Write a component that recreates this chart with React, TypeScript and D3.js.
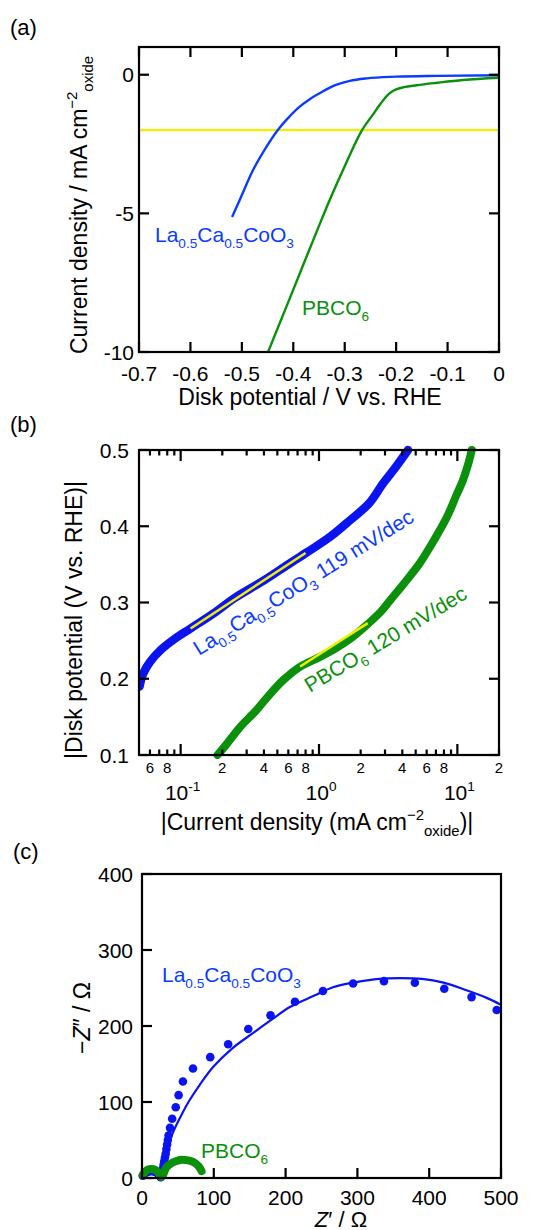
import React from 'react';
import * as d3 from 'd3';

const FONT = '"Liberation Sans", Arial, Helvetica, sans-serif';
const BLUE_A = '#0a3cff';
const BLUE = '#0a14f0';
const GREEN = '#0a900a';
const YELLOW = '#f2ee00';

// ---------- Panel (a): LSV ----------
const aXTicks = [-0.7, -0.6, -0.5, -0.4, -0.3, -0.2, -0.1, 0];
const aYTicks = [0, -5, -10];
const aLaV = [-0.519, -0.504, -0.478, -0.452, -0.43, -0.413, -0.387, -0.368, -0.348, -0.322, -0.29, -0.257, -0.2, -0.12, 0];
const aLaJ = [-5.13, -4.51, -3.43, -2.59, -1.99, -1.62, -1.14, -0.88, -0.66, -0.4, -0.22, -0.13, -0.07, -0.04, -0.02];
const aPbV = [-0.449, -0.4, -0.35, -0.329, -0.3, -0.266, -0.245, -0.23, -0.218, -0.21, -0.2, -0.185, -0.16, -0.12, -0.07, 0];
const aPbJ = [-10, -7.75, -5.45, -4.51, -3.3, -1.99, -1.43, -1.04, -0.76, -0.63, -0.53, -0.45, -0.38, -0.29, -0.19, -0.11];
const aRefJ = -2;

// ---------- Panel (b): Tafel ----------
const bYTicks = [0.1, 0.2, 0.3, 0.4, 0.5];
const bMajor = [0.1, 1, 10];
const bMinor = [0.06, 0.07, 0.08, 0.09, 0.2, 0.3, 0.4, 0.5, 0.6, 0.7, 0.8, 0.9, 2, 3, 4, 5, 6, 7, 8, 9, 20];
const bMinorLabels: [number, string][] = [[0.06, '6'], [0.08, '8'], [0.2, '2'], [0.4, '4'], [0.6, '6'], [0.8, '8'], [2, '2'], [4, '4'], [6, '6'], [8, '8'], [20, '2']];
const bLaJ = [0.0505, 0.052, 0.054, 0.06, 0.072, 0.09, 0.118, 0.18, 0.241, 0.4, 0.6, 0.822, 1.2, 1.68, 2.3, 2.9, 3.6, 4.4];
const bLaE = [0.19, 0.2, 0.208, 0.222, 0.238, 0.252, 0.266, 0.288, 0.305, 0.329, 0.35, 0.366, 0.386, 0.408, 0.43, 0.456, 0.478, 0.5];
const bPbJ = [0.1845, 0.21, 0.27, 0.35, 0.424, 0.55, 0.733, 1.0, 1.27, 1.7, 2.23, 2.8, 3.27, 4.2, 5.37, 6.8, 8.41, 9.8, 10.96, 12.0, 12.7];
const bPbE = [0.1, 0.112, 0.137, 0.158, 0.176, 0.198, 0.216, 0.228, 0.238, 0.253, 0.271, 0.288, 0.303, 0.327, 0.352, 0.382, 0.412, 0.44, 0.46, 0.482, 0.5];
const bLaFitJ = [0.118, 0.8];
const bLaFitE = [0.266, 0.365];
const bPbFitJ = [0.73, 2.25];
const bPbFitE = [0.216, 0.273];

// ---------- Panel (c): Nyquist ----------
const cXTicks = [0, 100, 200, 300, 400, 500];
const cYTicks = [0, 100, 200, 300, 400];
const cLaZr = [1, 4, 8, 13, 18, 22, 25, 26, 27, 28, 29, 30, 31, 32, 33, 34, 35, 36, 37, 39, 42, 47, 51, 57, 71, 95, 120, 148, 179, 213, 252, 294, 337, 380, 421, 459, 494];
const cLaZi = [3, 6, 8, 9, 8, 6, 3, 1, 4, 8, 12, 17, 22, 27, 32, 38, 44, 50, 56, 66, 78, 93, 109, 127, 144, 159, 176, 196, 214, 232, 246, 256, 259, 257, 249, 238, 221];
const cFitZr = [27, 28, 31, 35, 41, 48, 56, 66, 80, 99, 125, 155, 180, 206, 240, 266, 300, 330, 359, 390, 420, 452, 480, 500];
const cFitZi = [0, 10, 25, 40, 55, 70, 85, 102, 122, 146, 170, 191, 208, 225, 240, 251, 258, 262, 263, 262, 257, 247, 237, 228];
const cPbZr = [1, 4, 8, 13, 18, 22, 25, 27, 29, 31, 34, 40, 47, 55, 62, 69, 75, 80, 83];
const cPbZi = [4, 8, 11, 12, 11, 8, 4, 1, 3, 8, 14, 19, 22, 24, 23.5, 22, 19, 14, 9];

type Seg = { t: string; s?: 'sub' | 'sup' };

function Rich({ segs, fs, ...rest }: { segs: Seg[]; fs: number; [k: string]: any }) {
  let prev = 0;
  const kids = segs.map((sg, i) => {
    const target = sg.s === 'sub' ? 0.28 * fs : sg.s === 'sup' ? -0.42 * fs : 0;
    const dy = target - prev;
    prev = target;
    return (
      <tspan key={i} dy={dy} fontSize={sg.s ? fs * 0.65 : fs}>
        {sg.t}
      </tspan>
    );
  });
  return (
    <text fontSize={fs} {...rest}>
      {kids}
    </text>
  );
}

const laFormula: Seg[] = [
  { t: 'La' }, { t: '0.5', s: 'sub' }, { t: 'Ca' }, { t: '0.5', s: 'sub' }, { t: 'CoO' }, { t: '3', s: 'sub' },
];

function zip(a: number[], b: number[]): [number, number][] {
  return a.map((v, i) => [v, b[i]]);
}

export default function App() {
  const AX = 2.2;
  const TK = 10;
  const tickFs = 21;

  // scales
  const xa = d3.scaleLinear().domain([-0.7, 0]).range([139, 499]);
  const ya = d3.scaleLinear().domain([-10, 1]).range([352, 47]);
  const xb = d3.scaleLog().domain([0.05, 20]).range([139, 499]);
  const yb = d3.scaleLinear().domain([0.1, 0.5]).range([755, 450]);
  const xc = d3.scaleLinear().domain([0, 500]).range([142, 501]);
  const yc = d3.scaleLinear().domain([0, 400]).range([1178, 874]);

  const lineA = d3.line<[number, number]>().x(d => xa(d[0])).y(d => ya(d[1])).curve(d3.curveMonotoneX);
  const lineB = d3.line<[number, number]>().x(d => xb(d[0])).y(d => yb(d[1])).curve(d3.curveCatmullRom.alpha(0.5));
  const lineC = d3.line<[number, number]>().x(d => xc(d[0])).y(d => yc(d[1])).curve(d3.curveCatmullRom.alpha(0.5));

  const [a0, a1] = xa.range();
  const [aB, aT] = ya.range();
  const [b0, b1] = xb.range();
  const [bB, bT] = yb.range();
  const [c0, c1] = xc.range();
  const [cB, cT] = yc.range();

  return (
    <svg width={555} height={1230} style={{ position: 'absolute', left: 0, top: 0 }} fontFamily={FONT}>
      <rect x={0} y={0} width={555} height={1230} fill="#fff" />
      <defs>
        <clipPath id="clipA"><rect x={a0} y={aT} width={a1 - a0} height={aB - aT} /></clipPath>
        <clipPath id="clipB"><rect x={b0} y={bT - 6} width={b1 - b0} height={bB - bT + 12} /></clipPath>
        <clipPath id="clipC"><rect x={c0 - 6} y={cT} width={c1 - c0 + 6} height={cB - cT + 6} /></clipPath>
      </defs>

      {/* ================= Panel (a) ================= */}
      <text x={10} y={35} fontSize={22}>(a)</text>
      <g clipPath="url(#clipA)">
        <line x1={a0} x2={a1} y1={ya(aRefJ)} y2={ya(aRefJ)} stroke={YELLOW} strokeWidth={2.2} />
        <path d={lineA(zip(aLaV, aLaJ)) || ''} fill="none" stroke={BLUE_A} strokeWidth={2.4} />
        <path d={lineA(zip(aPbV, aPbJ)) || ''} fill="none" stroke={GREEN} strokeWidth={2.4} />
      </g>
      <rect x={a0} y={aT} width={a1 - a0} height={aB - aT} fill="none" stroke="#000" strokeWidth={AX} />
      {aXTicks.map(t => (
        <g key={'ax' + t}>
          <line x1={xa(t)} x2={xa(t)} y1={aB} y2={aB - TK} stroke="#000" strokeWidth={AX} />
          <line x1={xa(t)} x2={xa(t)} y1={aT} y2={aT + TK} stroke="#000" strokeWidth={AX} />
          <text x={xa(t)} y={381} fontSize={tickFs} textAnchor="middle">{t === 0 ? '0' : t.toFixed(1)}</text>
        </g>
      ))}
      {aYTicks.map(t => (
        <g key={'ay' + t}>
          <line x1={a0} x2={a0 + TK} y1={ya(t)} y2={ya(t)} stroke="#000" strokeWidth={AX} />
          <line x1={a1} x2={a1 - TK} y1={ya(t)} y2={ya(t)} stroke="#000" strokeWidth={AX} />
          <text x={134} y={ya(t) + 7.5} fontSize={tickFs} textAnchor="end">{String(t)}</text>
        </g>
      ))}
      <Rich segs={laFormula} fs={21} x={155} y={242} fill={BLUE_A} />
      <Rich segs={[{ t: 'PBCO' }, { t: '6', s: 'sub' }]} fs={21} x={302} y={315} fill={GREEN} />
      <text x={310} y={405} fontSize={23} textAnchor="middle">Disk potential / V vs. RHE</text>
      <Rich
        segs={[{ t: 'Current density / mA cm' }, { t: '\u22122', s: 'sup' }, { t: 'oxide', s: 'sub' }]}
        fs={23}
        transform="translate(87,205) rotate(-90)"
        textAnchor="middle"
      />

      {/* ================= Panel (b) ================= */}
      <text x={10} y={432} fontSize={22}>(b)</text>
      <g clipPath="url(#clipB)">
        <path d={lineB(zip(bLaJ, bLaE)) || ''} fill="none" stroke={BLUE} strokeWidth={8.5} strokeLinecap="round" strokeLinejoin="round" />
        <path d={lineB(zip(bPbJ, bPbE)) || ''} fill="none" stroke={GREEN} strokeWidth={8} strokeLinecap="round" strokeLinejoin="round" />
        <path d={lineB(zip(bLaFitJ, bLaFitE)) || ''} fill="none" stroke={YELLOW} strokeWidth={2.5} />
        <path d={lineB(zip(bPbFitJ, bPbFitE)) || ''} fill="none" stroke={YELLOW} strokeWidth={2.5} />
      </g>
      <rect x={b0} y={bT} width={b1 - b0} height={bB - bT} fill="none" stroke="#000" strokeWidth={AX} />
      {bMajor.map(t => (
        <g key={'bM' + t}>
          <line x1={xb(t)} x2={xb(t)} y1={bB} y2={bB - 11} stroke="#000" strokeWidth={AX} />
          <line x1={xb(t)} x2={xb(t)} y1={bT} y2={bT + 11} stroke="#000" strokeWidth={AX} />
        </g>
      ))}
      {bMinor.map(t => (
        <g key={'bm' + t}>
          <line x1={xb(t)} x2={xb(t)} y1={bB} y2={bB - 5.5} stroke="#000" strokeWidth={AX} />
          <line x1={xb(t)} x2={xb(t)} y1={bT} y2={bT + 5.5} stroke="#000" strokeWidth={AX} />
        </g>
      ))}
      {bMinorLabels.map(([t, s]) => (
        <text key={'bl' + t} x={xb(t)} y={773} fontSize={15} textAnchor="middle">{s}</text>
      ))}
      {bMajor.map((t, i) => (
        <Rich
          key={'bML' + t}
          segs={[{ t: '10' }, { t: ['-1', '0', '1'][i], s: 'sup' }]}
          fs={21}
          x={xb(t) + 2}
          y={800}
          textAnchor="middle"
        />
      ))}
      {bYTicks.map(t => (
        <g key={'by' + t}>
          <line x1={b0} x2={b0 + TK} y1={yb(t)} y2={yb(t)} stroke="#000" strokeWidth={AX} />
          <line x1={b1} x2={b1 - TK} y1={yb(t)} y2={yb(t)} stroke="#000" strokeWidth={AX} />
          <text x={129} y={yb(t) + 7.5} fontSize={tickFs} textAnchor="end">{t.toFixed(1)}</text>
        </g>
      ))}
      <Rich
        segs={[...laFormula, { t: ' 119 mV/dec' }]}
        fs={21}
        transform="translate(199,656) rotate(-32)"
        fill={BLUE_A}
      />
      <Rich
        segs={[{ t: 'PBCO' }, { t: '6', s: 'sub' }, { t: ' 120 mV/dec' }]}
        fs={21}
        transform="translate(310,693) rotate(-31)"
        fill={GREEN}
      />
      <Rich
        segs={[{ t: '|Current density (mA cm' }, { t: '\u22122', s: 'sup' }, { t: 'oxide', s: 'sub' }, { t: ')|' }]}
        fs={23}
        x={317}
        y={830}
        textAnchor="middle"
      />
      <text transform="translate(82,620) rotate(-90)" fontSize={23} textAnchor="middle">|Disk potential (V vs. RHE)|</text>

      {/* ================= Panel (c) ================= */}
      <text x={13} y={859} fontSize={22}>(c)</text>
      <g clipPath="url(#clipC)">
        <path d={lineC(zip(cFitZr, cFitZi)) || ''} fill="none" stroke={BLUE} strokeWidth={2.2} />
        {zip(cLaZr, cLaZi).map(([x, y], i) => (
          <circle key={'cd' + i} cx={xc(x)} cy={yc(y)} r={4.3} fill={BLUE} />
        ))}
        <path d={lineC(zip(cPbZr, cPbZi)) || ''} fill="none" stroke={GREEN} strokeWidth={8} strokeLinecap="round" strokeLinejoin="round" />
      </g>
      <rect x={c0} y={cT} width={c1 - c0} height={cB - cT} fill="none" stroke="#000" strokeWidth={AX} />
      {cXTicks.map(t => (
        <g key={'cx' + t}>
          <line x1={xc(t)} x2={xc(t)} y1={cB} y2={cB - TK} stroke="#000" strokeWidth={AX} />
          <text x={xc(t)} y={1205} fontSize={tickFs} textAnchor="middle">{String(t)}</text>
        </g>
      ))}
      {cYTicks.map(t => (
        <g key={'cy' + t}>
          <line x1={c0} x2={c0 + TK} y1={yc(t)} y2={yc(t)} stroke="#000" strokeWidth={AX} />
          <text x={133} y={yc(t) + 7.5} fontSize={tickFs} textAnchor="end">{String(t)}</text>
        </g>
      ))}
      <Rich segs={laFormula} fs={21} x={162} y={982} fill={BLUE_A} />
      <Rich segs={[{ t: 'PBCO' }, { t: '6', s: 'sub' }]} fs={21} x={201} y={1158} fill={GREEN} />
      <text x={341} y={1227} fontSize={22} textAnchor="middle">
        <tspan fontStyle="italic">Z</tspan>
        <tspan>{'\u2032 / \u03A9'}</tspan>
      </text>
      <text transform="translate(90,1018) rotate(-90)" fontSize={23} textAnchor="middle">
        <tspan>{'\u2212'}</tspan>
        <tspan fontStyle="italic">Z</tspan>
        <tspan>{'\u2033 / \u03A9'}</tspan>
      </text>
    </svg>
  );
}
